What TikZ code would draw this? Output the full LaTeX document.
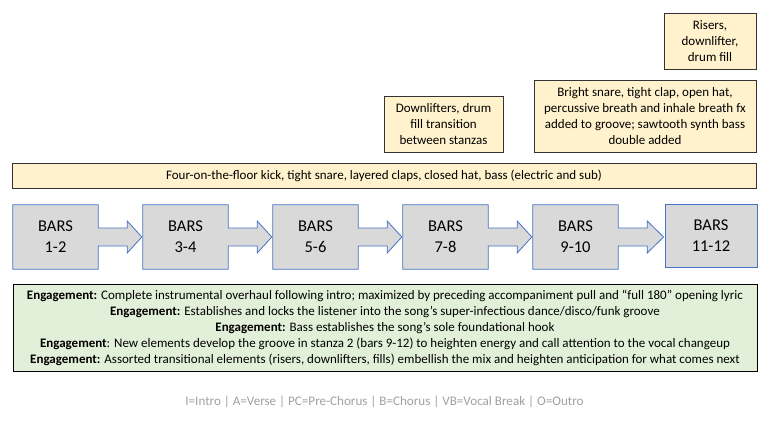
\documentclass[tikz,border=0pt]{standalone}
\usepackage{fontspec}
\setmainfont{Carlito}
\usetikzlibrary{calc,backgrounds}
\definecolor{ybox}{HTML}{FFF2CC}
\definecolor{gbox}{HTML}{E2F0D9}
\definecolor{barfill}{HTML}{D9D9D9}
\definecolor{barline}{HTML}{4472C4}
\definecolor{legendgray}{HTML}{A0A0A0}
\tikzset{
  ynote/.style={draw=black!80, line width=0.8pt, fill=ybox, align=center, inner sep=0pt,
    font=\fontsize{13}{16.3}\selectfont},
  bartext/.style={align=center, inner sep=0pt, minimum width=85pt, minimum height=64pt,
    font=\fontsize{16.5}{21}\selectfont},
  barshape/.style={draw=barline, line width=0.8pt, fill=barfill, line join=miter},
  engbox/.style={draw=black, line width=0.9pt, fill=gbox, align=center, inner sep=0pt,
    minimum width=744pt, minimum height=87pt, font=\fontsize{13}{16}\selectfont},
}
\begin{document}
\begin{tikzpicture}[x=1pt,y=-1pt]
\useasboundingbox (0,0) rectangle (768,425);
% top notes
\node[ynote, minimum width=92pt, minimum height=56pt] (risers) at (710,41) {Risers,\\downlifter,\\drum fill};
\node[ynote, minimum width=222pt, minimum height=72pt] (bright) at (645,116) {Bright snare, tight clap, open hat,\\percussive breath and inhale breath fx\\added to groove; sawtooth synth bass\\double added};
\node[ynote, minimum width=119pt, minimum height=56pt] (downl) at (443.5,124) {Downlifters, drum\\fill transition\\between stanzas};
\node[ynote, minimum width=744pt, minimum height=25pt] (base) at (384,175.5) {Four-on-the-floor kick, tight snare, layered claps, closed hat, bass (electric and sub)};
% bars
\node[bartext] (b1) at (55.5,237) {BARS\\1-2};
\node[bartext] (b2) at (185.5,237) {BARS\\3-4};
\node[bartext] (b3) at (315.5,237) {BARS\\5-6};
\node[bartext] (b4) at (445.5,237) {BARS\\7-8};
\node[bartext] (b5) at (575.5,237) {BARS\\9-10};
\node[bartext, minimum width=92pt, minimum height=63pt, draw=barline, line width=0.8pt, fill=barfill] (b6) at (711,235.5) {BARS\\11-12};
\begin{scope}[on background layer]
\foreach \a/\b in {b1/b2,b2/b3,b3/b4,b4/b5,b5/b6}{
  \draw[barshape] (\a.north west) -- (\a.north east) -- ($(\a.east)+(0,-9)$)
    -- ($(\a.east)+(29,-9)$) -- ($(\a.east)+(29,-16)$) -- ($(\b.west|-\a.east)+(-1,0)$)
    -- ($(\a.east)+(29,16)$) -- ($(\a.east)+(29,9)$) -- ($(\a.east)+(0,9)$)
    -- (\a.south east) -- (\a.south west) -- cycle;
}
\end{scope}
% engagement box
\node[engbox] (eng) at (385,327.5) {%
\textbf{Engagement:} Complete instrumental overhaul following intro; maximized by preceding accompaniment pull and “full 180” opening lyric\\
\textbf{Engagement:} Establishes and locks the listener into the song’s super-infectious dance/disco/funk groove\\
\textbf{Engagement:} Bass establishes the song’s sole foundational hook\\
\textbf{Engagement}: New elements develop the groove in stanza 2 (bars 9-12) to heighten energy and call attention to the vocal changeup\\
\textbf{Engagement:} Assorted transitional elements (risers, downlifters, fills) embellish the mix and heighten anticipation for what comes next};
% legend
\node[text=legendgray, font=\fontsize{13.1}{16}\selectfont, inner sep=0pt] (legend) at (384.5,402) {I=Intro | A=Verse | PC=Pre-Chorus | B=Chorus | VB=Vocal Break | O=Outro};
\end{tikzpicture}
\end{document}
